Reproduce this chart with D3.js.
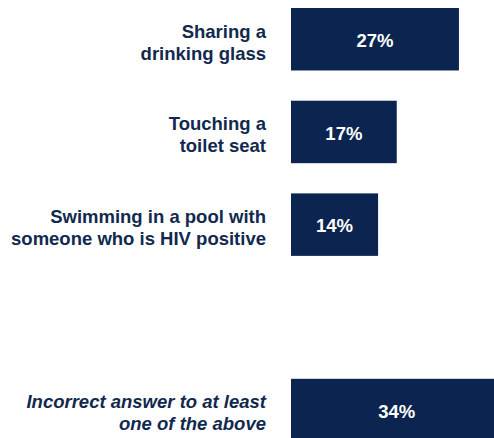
<!DOCTYPE html>
<html>
<head>
<meta charset="utf-8">
<script src="https://cdn.jsdelivr.net/npm/d3@7"></script>
<style>
  html, body { margin: 0; padding: 0; background: #fff; overflow: hidden; }
  svg { display: block; }
</style>
</head>
<body>
<svg id="chart" width="494" height="438"></svg>
<script>
// Misconceptions about how HIV is transmitted (share of respondents)
const categories = [
  ["Sharing a", "drinking glass"],
  ["Touching a", "toilet seat"],
  ["Swimming in a pool with", "someone who is HIV positive"],
  null, // empty slot separating the summary row
  ["Incorrect answer to at least", "one of the above"]
];
const values = [27, 17, 14, null, 34];
const valueLabels = ["27%", "17%", "14%", null, "34%"];
const italicRows = [false, false, false, false, true];

const navy = "#0b2550";
const textNavy = "#12294f";
const fontFamily = "'Liberation Sans', Arial, Helvetica, sans-serif";

const svg = d3.select("#chart");
const keys = d3.range(categories.length);

const y = d3.scaleBand()
  .domain(keys)
  .range([8, 8 + 92.7 * (keys.length - 0.326)])
  .paddingInner(0.326)
  .paddingOuter(0);

const x = d3.scaleLinear()
  .domain([0, 100])
  .range([291, 291 + 622]);

const rows = keys.filter(i => values[i] != null);

// bars
svg.append("g")
  .selectAll("rect")
  .data(rows)
  .join("rect")
  .attr("x", x(0))
  .attr("y", i => y(i))
  .attr("width", i => x(values[i]) - x(0))
  .attr("height", y.bandwidth())
  .attr("fill", navy);

// value labels centred in each bar
svg.append("g")
  .selectAll("text")
  .data(rows)
  .join("text")
  .attr("x", i => (x(0) + x(values[i])) / 2)
  .attr("y", i => y(i) + y.bandwidth() / 2 + 7.7)
  .attr("text-anchor", "middle")
  .attr("font-family", fontFamily)
  .attr("font-weight", "bold")
  .attr("font-size", "18.5px")
  .attr("fill", "#ffffff")
  .text(i => valueLabels[i]);

// two-line category labels, right-aligned to the left of the bars
const labels = svg.append("g")
  .selectAll("text")
  .data(rows)
  .join("text")
  .attr("text-anchor", "end")
  .attr("font-family", fontFamily)
  .attr("font-weight", "bold")
  .attr("font-style", i => italicRows[i] ? "italic" : "normal")
  .attr("font-size", "18.5px")
  .attr("fill", textNavy);

labels.selectAll("tspan")
  .data(i => categories[i].map((line, k) => ({ line, k, i })))
  .join("tspan")
  .attr("x", 266)
  .attr("y", d => y(d.i) + y.bandwidth() / 2 - 1.7 + d.k * 22)
  .text(d => d.line);
</script>
</body>
</html>
